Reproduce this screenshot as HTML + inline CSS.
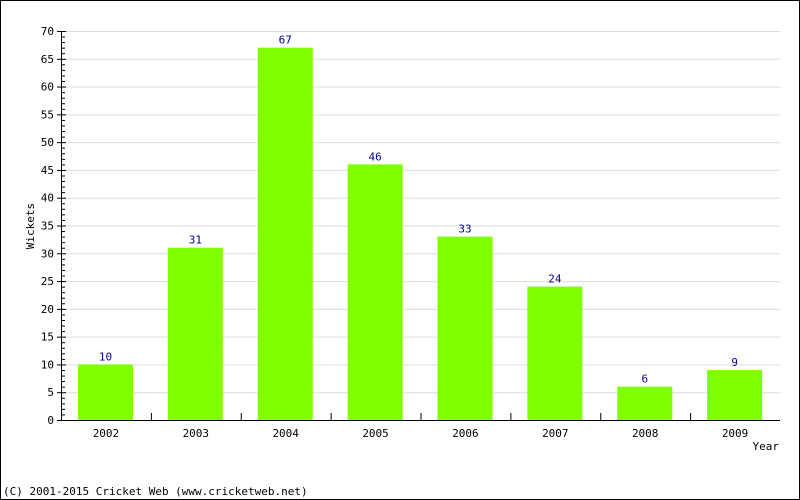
<!DOCTYPE html>
<html><head><meta charset="utf-8">
<style>
html,body{margin:0;padding:0;background:#fff;}
svg{display:block;font-family:"DejaVu Sans Mono","Liberation Mono",monospace;}
</style></head>
<body>
<svg id="chart" width="800" height="500" viewBox="0 0 800 500">
<rect x="0.5" y="0.5" width="799" height="499" fill="#fff" stroke="#000"/>
<g id="grid"></g>
<g id="bars"></g>
<g id="axes"></g>
<text x="34" y="226" font-size="11" text-anchor="middle" transform="rotate(-90 34 226)">Wickets</text>
<text x="779" y="450" font-size="11" text-anchor="end">Year</text>
<text x="3" y="495" font-size="11">(C) 2001-2015 Cricket Web (www.cricketweb.net)</text>
</svg>
<script>
const categories = ["2002","2003","2004","2005","2006","2007","2008","2009"];
const values = [10,31,67,46,33,24,6,9];
const yTicks = [0,5,10,15,20,25,30,35,40,45,50,55,60,65,70];
const NS="http://www.w3.org/2000/svg";
const x0=61, x1=780, yBase=420, yTop=31, yMax=70;
const slot=(x1-x0)/categories.length;
function y(v){return yBase-(v/yMax)*(yBase-yTop);}
function mk(tag,attrs,parent){const e=document.createElementNS(NS,tag);for(const k in attrs)e.setAttribute(k,attrs[k]);parent.appendChild(e);return e;}
const grid=document.getElementById('grid'),bars=document.getElementById('bars'),axes=document.getElementById('axes');
yTicks.forEach(t=>{
  if(t>0){const l=mk('line',{x1:x0,x2:x1,y1:y(t)+0.5,y2:y(t)+0.5,stroke:'#dcdcdc'},grid);
  
  }
  const tk=mk('line',{x1:x0-4,x2:x0+5,y1:y(t)+0.5,y2:y(t)+0.5,stroke:'#000'},axes);
  
  
  const lb=mk('text',{x:x0-7,y:y(t)+4,'font-size':11,'text-anchor':'end'},axes);lb.textContent=t;
  
  
});
for(let v=1;v<yMax;v++){if(v%5===0)continue;
  const m=mk('line',{x1:x0,x2:x0+4,y1:y(v)+0.5,y2:y(v)+0.5,stroke:'#000'},axes);
  
  }
mk('line',{x1:x0+0.5,x2:x0+0.5,y1:yTop,y2:yBase+1,stroke:'#000'},axes);
mk('line',{x1:x0,x2:x1,y1:yBase+0.5,y2:yBase+0.5,stroke:'#000'},axes);
categories.forEach((c,i)=>{
  const bx=x0+i*slot+17, bw=55;
  const r=mk('rect',{x:bx,y:y(values[i]),width:bw,height:yBase-y(values[i]),fill:'#80ff00'},bars);
  
  
  const vl=mk('text',{x:bx+bw/2,y:y(values[i])-4,'font-size':11,'text-anchor':'middle',fill:'#00008b'},bars);vl.textContent=values[i];
  
  
  const xl=mk('text',{x:x0+i*slot+slot/2,y:yBase+17,'font-size':11,'text-anchor':'middle'},axes);xl.textContent=c;
  
  
  if(i>0){const t=mk('line',{x1:x0+i*slot+0.5,x2:x0+i*slot+0.5,y1:yBase-7,y2:yBase,stroke:'#000'},axes);
  
  }
});
</script>
</body></html>
